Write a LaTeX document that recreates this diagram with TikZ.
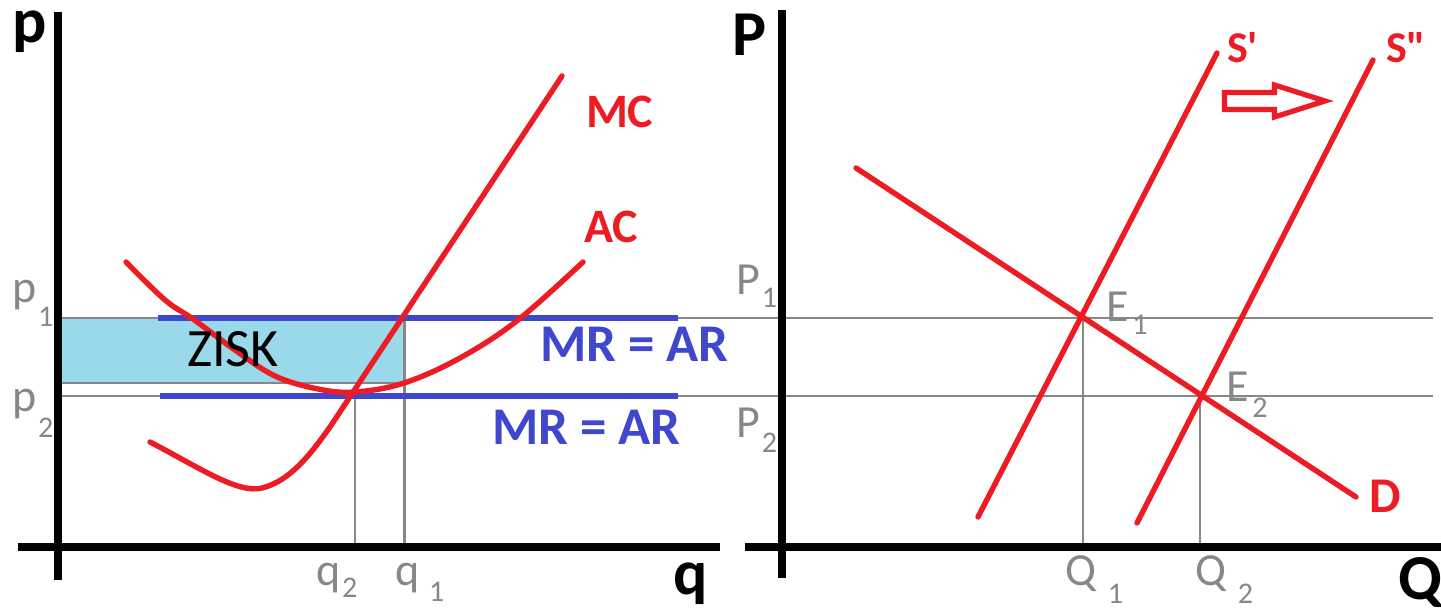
\documentclass[tikz,border=0pt]{standalone}
\usepackage{fontspec}
\setmainfont{Carlito}
\newfontfamily\labfont{Carlito}
\definecolor{pred}{RGB}{237,28,36}
\definecolor{pblue}{RGB}{63,72,204}
\definecolor{pfill}{RGB}{153,217,234}
\definecolor{pgray}{RGB}{135,135,135}
\newcommand\lsub[3]{\kern#1\raisebox{-#2}{\fontsize{15}{15}\selectfont #3}}
\begin{document}
\begin{tikzpicture}[x=0.5pt,y=-0.5pt,
  axisline/.style={line width=4pt, black},
  guide/.style={line width=1.1pt, pgray},
  mrline/.style={line width=2.6pt, pblue},
  curve/.style={line width=2.7pt, pred, line cap=round},
  lbl/.style={inner sep=0pt, outer sep=0pt, anchor=base west, text=pgray, font=\labfont\fontsize{23}{23}\selectfont},
  big/.style={inner sep=0pt, outer sep=0pt, anchor=base west, text=black, font=\labfont\bfseries\fontsize{32}{32}\selectfont},
  redlbl/.style={inner sep=0pt, outer sep=0pt, anchor=base west, text=pred, font=\labfont\bfseries\fontsize{24}{24}\selectfont},
  bluelbl/.style={inner sep=0pt, outer sep=0pt, anchor=base west, text=pblue, font=\labfont\bfseries\fontsize{26.5}{26.5}\selectfont},
  blacklbl/.style={inner sep=0pt, outer sep=0pt, anchor=base west, text=black, font=\labfont\fontsize{27}{27}\selectfont}]
\useasboundingbox (0,0) rectangle (1441,613);
% ---------- left panel ----------
\fill[pfill] (57.5,318) rectangle (404.5,383);
\draw[guide] (57.5,318) -- (1433,318);
\draw[guide] (57.5,396) -- (1433,396);
\draw[guide] (57.5,383) -- (404.5,383);
\draw[guide] (355,396) -- (355,547);
\draw[guide] (404.5,318) -- (404.5,547);
\draw[mrline] (158,318) -- (678,318);
\draw[mrline] (160,396) -- (678,396);
% MC
\draw[curve] (150,442) .. controls (200,468) and (238,494) .. (262,488)
  .. controls (290,481) and (310,455) .. (330,427) -- (562,76);
% AC
\draw[curve] plot[smooth, tension=0.6] coordinates {(126,262) (165,300) (193,319) (235,350) (275,376) (318,389) (355,392) (404,383) (460,358) (518,320) (583,262)};
\draw[axisline] (57.5,12) -- (57.5,580);
\draw[axisline] (18,547.5) -- (720,547.5);
\node[big] (lp) at (12,43) {p};
\node[big] (lq) at (673,595) {q};
\node[lbl] (p1) at (12,303) {p\lsub{1pt}{12pt}{1}};
\node[lbl] (p2) at (12,412) {p\lsub{1pt}{13pt}{2}};
\node[lbl] (q2) at (316,586) {q\lsub{1pt}{6pt}{2}};
\node[lbl] (q1) at (395,586) {q\lsub{5pt}{8pt}{1}};
\node[redlbl] (mc) at (586,128) {MC};
\node[redlbl] (ac) at (584,243) {AC};
\node[bluelbl] (mr1) at (540,362) {MR = AR};
\node[bluelbl] (mr2) at (492,445) {MR = AR};
\node[blacklbl] (zisk) at (187,367) {ZISK};
% ---------- right panel ----------
\draw[guide] (1083,318) -- (1083,547);
\draw[guide] (1200,396) -- (1200,547);
\draw[curve] (856,168) -- (1356,497);
\draw[curve] (978,517) -- (1217,53);
\draw[curve] (1137,523) -- (1373,60);
\draw[pred, line width=2.6pt, fill=white, line join=miter]
  (1224.5,92.5) -- (1274.5,92.5) -- (1274.5,85) -- (1325,101) -- (1274.5,117) -- (1274.5,109.5) -- (1224.5,109.5) -- cycle;
\draw[axisline] (782,10) -- (782,578);
\draw[axisline] (745,547.5) -- (1441,547.5);
\node[big] (rp) at (732,56) {P};
\node[big] (rq) at (1398,600) {Q};
\node[lbl] (P1) at (736,295) {P\lsub{1pt}{6.5pt}{1}};
\node[lbl] (P2) at (736,438) {P\lsub{1pt}{7.5pt}{2}};
\node[lbl] (E1) at (1106,322) {E\lsub{2pt}{6.5pt}{1}};
\node[lbl] (E2) at (1226,402) {E\lsub{2pt}{8pt}{2}};
\node[lbl] (Q1) at (1065,586) {Q\lsub{6pt}{9pt}{1}};
\node[lbl] (Q2) at (1195,586) {Q\lsub{6pt}{9pt}{2}};
\node[redlbl, font=\labfont\bfseries\fontsize{22}{22}\selectfont] (s1) at (1227,63) {S'};
\node[redlbl, font=\labfont\bfseries\fontsize{22}{22}\selectfont] (s2) at (1386,63) {S"};
\node[redlbl, font=\labfont\bfseries\fontsize{25}{25}\selectfont] (d) at (1369,513) {D};
\end{tikzpicture}
\end{document}
